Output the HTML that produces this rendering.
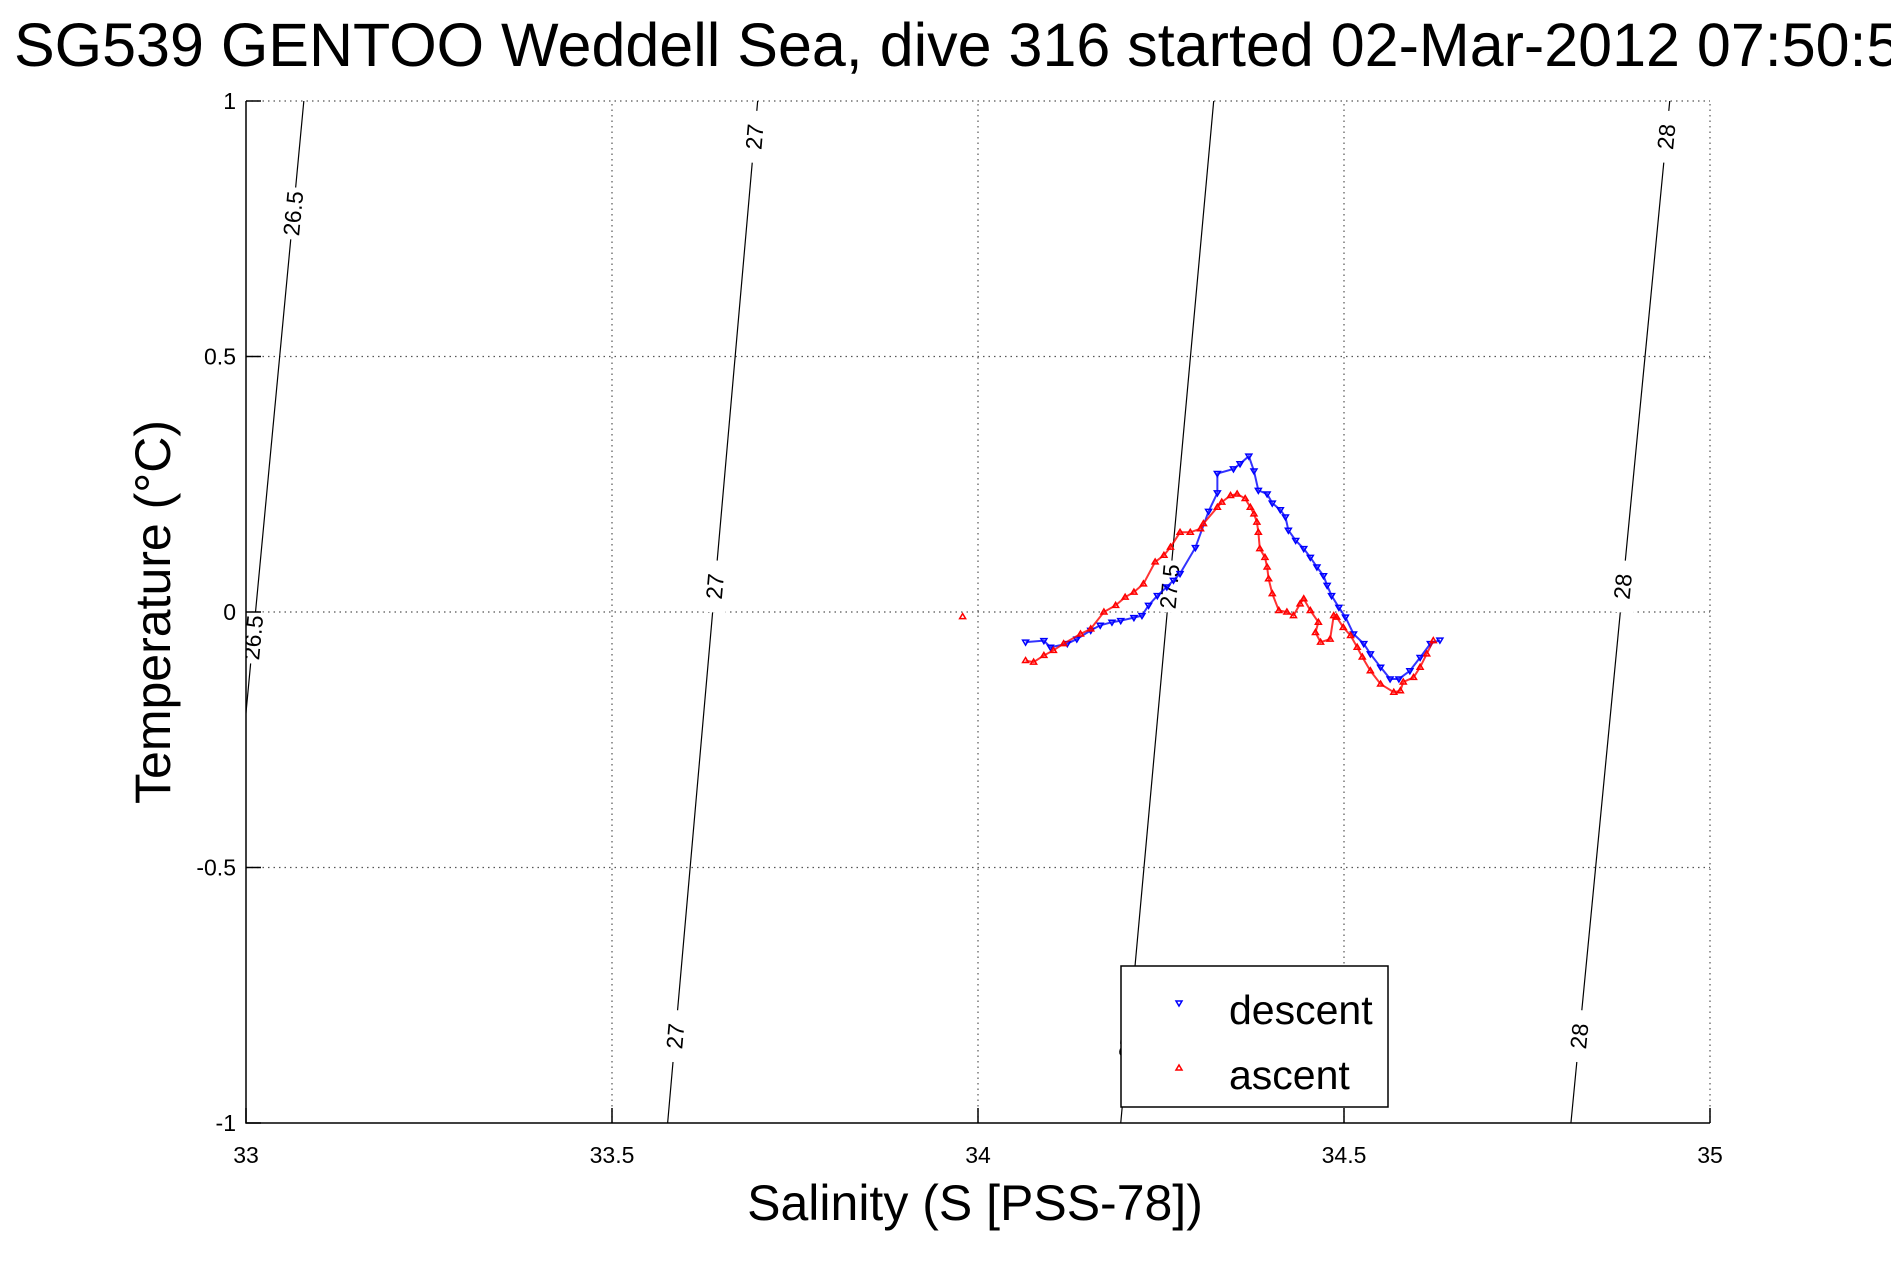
<!DOCTYPE html>
<html><head><meta charset="utf-8"><style>
html,body{margin:0;padding:0;background:#fff;overflow:hidden}
svg{display:block;font-family:"Liberation Sans",sans-serif}
</style></head><body>
<svg id="chart" width="1891" height="1262" viewBox="0 0 1891 1262">
<text x="14" y="66" font-size="61">SG539 GENTOO Weddell Sea, dive 316 started 02-Mar-2012 07:50:52</text>
<defs><clipPath id="plotclip"><rect x="246" y="101" width="1464" height="1022"/></clipPath></defs>
<g id="grid"></g>
<g id="iso" clip-path="url(#plotclip)"></g>
<g id="marks" clip-path="url(#plotclip)"></g>
<g id="axes"></g>
<text x="975" y="1220" font-size="50" text-anchor="middle">Salinity (S [PSS-78])</text>
<text transform="translate(170,612) rotate(-90)" font-size="50" text-anchor="middle">Temperature (°C)</text>
<g>
<rect x="1121" y="966" width="267" height="141" fill="#fff" stroke="#000" stroke-width="1.5"/>
<path d="M1176,1001 L1182,1001 L1179,1006 Z" fill="none" stroke="#00f" stroke-width="1.5"/>
<text x="1229" y="1024" font-size="41">descent</text>
<path d="M1176,1070 L1182,1070 L1179,1065 Z" fill="none" stroke="#f00" stroke-width="1.5"/>
<text x="1229" y="1089" font-size="41">ascent</text>
</g>
</svg>
<script>
const xTicks=[33,33.5,34,34.5,35];
const xTickLabels=["33","33.5","34","34.5","35"];
const yTicks=[-1,-0.5,0,0.5,1];
const yTickLabels=["-1","-0.5","0","0.5","1"];
const isoLevels=["26.5","27","27.5","28"];
const isoSTop=[33.079,33.699,34.322,34.945];
const isoSBottom=[32.947,33.576,34.195,34.810];
const isoLabelT=[[0.78,-0.05],[0.93,0.05,-0.83],[0.05,-0.83],[0.93,0.05,-0.83]];
const descentS=[34.065,34.090,34.099,34.122,34.135,34.154,34.167,34.183,34.195,34.213,34.224,34.233,34.245,34.258,34.267,34.276,34.297,34.315,34.327,34.327,34.349,34.358,34.370,34.377,34.383,34.395,34.402,34.413,34.420,34.424,34.434,34.445,34.454,34.463,34.472,34.477,34.483,34.493,34.502,34.513,34.527,34.536,34.550,34.563,34.575,34.590,34.604,34.618,34.631];
const descentT=[-0.059,-0.056,-0.069,-0.062,-0.053,-0.036,-0.026,-0.020,-0.017,-0.011,-0.007,0.013,0.032,0.049,0.062,0.075,0.126,0.197,0.233,0.271,0.280,0.290,0.305,0.276,0.238,0.231,0.213,0.200,0.186,0.160,0.140,0.124,0.107,0.088,0.071,0.052,0.032,0.009,-0.010,-0.043,-0.062,-0.082,-0.108,-0.131,-0.131,-0.115,-0.089,-0.062,-0.055];
const ascentS=[34.065,34.076,34.090,34.103,34.117,34.140,34.154,34.172,34.188,34.201,34.213,34.226,34.242,34.254,34.263,34.276,34.290,34.304,34.308,34.327,34.333,34.345,34.354,34.365,34.372,34.377,34.381,34.383,34.385,34.392,34.395,34.397,34.402,34.411,34.422,34.431,34.440,34.445,34.454,34.465,34.461,34.468,34.481,34.486,34.490,34.499,34.509,34.518,34.525,34.536,34.550,34.568,34.577,34.581,34.595,34.604,34.613,34.622];
const ascentT=[-0.095,-0.098,-0.085,-0.075,-0.062,-0.043,-0.033,0.000,0.013,0.029,0.039,0.055,0.098,0.111,0.127,0.156,0.156,0.163,0.173,0.205,0.215,0.228,0.231,0.222,0.205,0.192,0.176,0.156,0.124,0.107,0.088,0.065,0.036,0.003,0.000,-0.007,0.016,0.026,0.003,-0.020,-0.040,-0.059,-0.053,-0.007,-0.010,-0.030,-0.046,-0.069,-0.088,-0.115,-0.141,-0.157,-0.154,-0.137,-0.128,-0.108,-0.082,-0.056];
const strayS=[33.979];
const strayT=[-0.009];

const NS="http://www.w3.org/2000/svg";
const X0=246,X1=1710,Y0=1123,Y1=101;
const sx=s=>X0+(s-33)/(35-33)*(X1-X0);
const sy=t=>Y0-(t+1)/2*(Y0-Y1);
function mk(tag,attrs,parent){const e=document.createElementNS(NS,tag);for(const k in attrs)e.setAttribute(k,attrs[k]);parent.appendChild(e);return e;}
const grid=document.getElementById('grid'),axes=document.getElementById('axes'),iso=document.getElementById('iso'),marks=document.getElementById('marks');

xTicks.forEach((v,i)=>{
  if(i>0){const l=mk('line',{x1:sx(v),x2:sx(v),y1:Y0,y2:Y1,stroke:'#555','stroke-width':1.2,'stroke-dasharray':'1.5 4'},grid);
  
  }
  const t=mk('line',{x1:sx(v),x2:sx(v),y1:Y0,y2:Y0-15,stroke:'#000','stroke-width':1.5},axes);
  
  
  const tx=mk('text',{x:sx(v),y:1163,'font-size':23,'text-anchor':'middle'},axes);tx.textContent=xTickLabels[i];
  
  
});
yTicks.forEach((v,i)=>{
  if(i>0){const l=mk('line',{x1:X0,x2:X1,y1:sy(v),y2:sy(v),stroke:'#555','stroke-width':1.2,'stroke-dasharray':'1.5 4'},grid);
  
  }
  const t=mk('line',{x1:X0,x2:X0+15,y1:sy(v),y2:sy(v),stroke:'#000','stroke-width':1.5},axes);
  
  
  const tx=mk('text',{x:236,y:sy(v)+8,'font-size':23,'text-anchor':'end'},axes);tx.textContent=yTickLabels[i];
  
  
});
const ax=mk('path',{d:`M${X0},${Y1} L${X0},${Y0} L${X1},${Y0}`,fill:'none',stroke:'#000','stroke-width':1.5},axes);



isoLevels.forEach((lev,i)=>{
  const l=mk('line',{x1:sx(isoSTop[i]),y1:sy(1),x2:sx(isoSBottom[i]),y2:sy(-1),stroke:'#000','stroke-width':1.2},iso);
  
  
  const ang=Math.atan2(sy(-1)-sy(1),sx(isoSBottom[i])-sx(isoSTop[i]))*180/Math.PI;
  isoLabelT[i].forEach(t=>{
    const f=(1-t)/2,s=isoSTop[i]+(isoSBottom[i]-isoSTop[i])*f;
    const x=sx(s),y=sy(t);
    const g=mk('g',{transform:`translate(${x},${y}) rotate(${ang-180})`},iso);
    mk('rect',{x:-26,y:-13,width:52,height:26,fill:'#fff'},g);
    const tx=mk('text',{x:0,y:8,'font-size':23,'text-anchor':'middle'},g);tx.textContent=lev;
    
    
  });
});

function series(S,T,color,down,name){
  const g=mk('g',{},marks);
  
  
  if(S.length>1){
    const pl=mk('polyline',{points:S.map((s,i)=>sx(s)+','+sy(T[i])).join(' '),fill:'none',stroke:color,'stroke-width':2,'stroke-opacity':0.8},g);
    
    
  }
  S.forEach((s,i)=>{
    const x=sx(s),y=sy(T[i]);
    const d=down?`M${x-3},${y-2} L${x+3},${y-2} L${x},${y+3} Z`:`M${x-3},${y+2} L${x+3},${y+2} L${x},${y-3} Z`;
    const p=mk('path',{d:d,fill:'none',stroke:color,'stroke-width':1.5},g);
    
    
  });
}
series(descentS,descentT,'#00f',true,'descent');
series(ascentS,ascentT,'#f00',false,'ascent');
series(strayS,strayT,'#f00',false,'ascent-outlier');
</script>
</body></html>
